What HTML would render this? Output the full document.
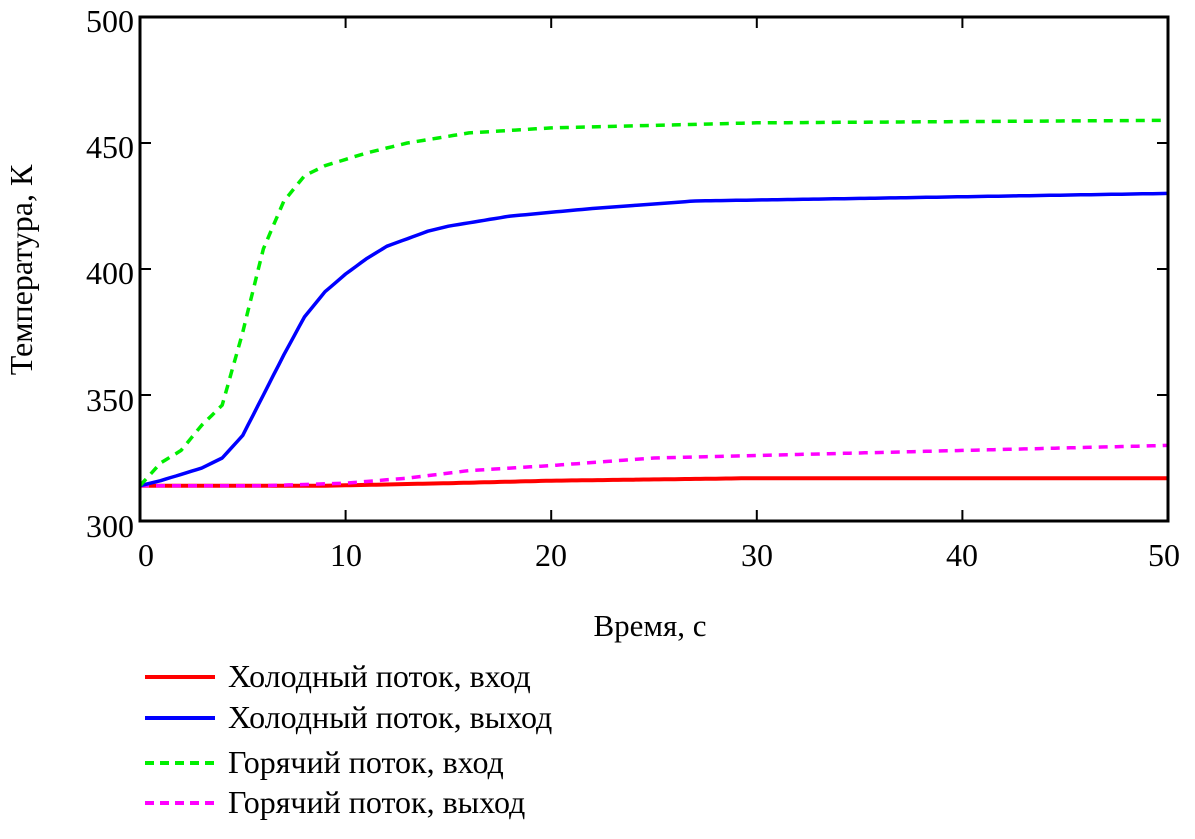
<!DOCTYPE html>
<html><head><meta charset="utf-8"><style>
body{margin:0;background:#fff;}
svg{display:block;font-family:"Liberation Serif","DejaVu Serif",serif;}
</style></head><body>
<svg id="s" width="1195" height="839" xmlns="http://www.w3.org/2000/svg">
<rect x="0" y="0" width="1195" height="839" fill="#fff"/>
<g id="curves"></g>
<rect x="140" y="17" width="1028" height="504" fill="none" stroke="#000" stroke-width="3"/>
<g id="ticks" stroke="#000" stroke-width="2"></g>
<g font-size="32" fill="#000" text-anchor="end">
<text x="134" y="32">500</text><text x="134" y="158">450</text><text x="134" y="284">400</text><text x="134" y="411">350</text><text x="134" y="537">300</text>
</g>
<g font-size="32" fill="#000" text-anchor="middle">
<text x="146" y="566">0</text><text x="346" y="566">10</text><text x="551" y="566">20</text><text x="757" y="566">30</text><text x="962" y="566">40</text><text x="1164" y="566">50</text>
</g>
<text x="650" y="636" font-size="31" text-anchor="middle">Время, с</text>
<text transform="translate(32,270) rotate(-90)" font-size="32" text-anchor="middle">Температура, К</text>
<g stroke-width="4">
<line x1="145" y1="677" x2="215" y2="677" stroke="#f00"/>
<line x1="145" y1="718" x2="215" y2="718" stroke="#00f"/>
<line x1="145" y1="763" x2="215" y2="763" stroke="#0e0" stroke-dasharray="9,6"/>
<line x1="145" y1="803" x2="215" y2="803" stroke="#f0f" stroke-dasharray="9,6"/>
</g>
<g font-size="32" fill="#000">
<text x="228" y="687">Холодный поток, вход</text>
<text x="228" y="728">Холодный поток, выход</text>
<text x="228" y="773">Горячий поток, вход</text>
<text x="228" y="813">Горячий поток, выход</text>
</g>
</svg>
<script>
var X=t=>140+t*1028/50, Y=v=>521-(v-300)*2.52;
function interp(pts,t){for(var i=1;i<pts.length;i++){if(t<=pts[i][0]){var a=pts[i-1],b=pts[i];var f=(t-a[0])/(b[0]-a[0]);return a[1]+f*(b[1]-a[1]);}}return pts[pts.length-1][1];}
function path(pts){var d="";for(var t=0;t<=50;t+=0.25){d+=(t?"L":"M")+X(t).toFixed(1)+","+Y(interp(pts,t)).toFixed(1);}return d;}
var red=[[0,314],[9,314],[15,315],[20,316],[30,317],[50,317]];
var mag=[[0,314],[6,314],[10,315],[13,317],[16,320],[20,322],[25,325],[35,327],[50,330]];
var blue=[[0,314],[1,316],[3,321],[4,325],[5,334],[6,350],[7,366],[8,381],[9,391],[10,398],[11,404],[12,409],[13,412],[14,415],[15,417],[18,421],[22,424],[27,427],[35,428],[50,430]];
var green=[[0,314],[1,323],[2,328],[3,338],[4,346],[5,375],[6,408],[7,427],[8,437],[9,441],[11,446],[13,450],[16,454],[20,456],[30,458],[50,459]];
var g=document.getElementById("curves"),ns="http://www.w3.org/2000/svg";
[[red,"#f00","","4"],[mag,"#f0f","9,7","3.5"],[blue,"#00f","","3.5"],[green,"#0e0","9,7","3.5"]].forEach(function(s){var p=document.createElementNS(ns,"path");p.setAttribute("d",path(s[0]));p.setAttribute("fill","none");p.setAttribute("stroke",s[1]);p.setAttribute("stroke-width",s[3]);p.setAttribute("stroke-linejoin","round");if(s[2])p.setAttribute("stroke-dasharray",s[2]);g.appendChild(p);});
var tk=document.getElementById("ticks");
function L(a,b,c,d){var l=document.createElementNS(ns,"line");l.setAttribute("x1",a);l.setAttribute("y1",b);l.setAttribute("x2",c);l.setAttribute("y2",d);tk.appendChild(l);}
for(var t=10;t<50;t+=10){L(X(t),521,X(t),510);L(X(t),17,X(t),28);}
for(var v=350;v<500;v+=50){L(140,Y(v),151,Y(v));L(1168,Y(v),1157,Y(v));}
</script>
</body></html>
